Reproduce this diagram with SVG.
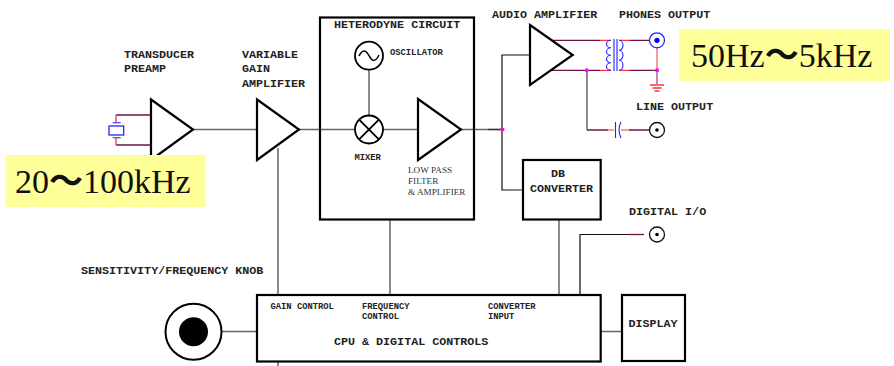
<svg xmlns="http://www.w3.org/2000/svg" width="894" height="366" viewBox="0 0 894 366">
<style>
text{font-family:"Liberation Mono",monospace;font-weight:bold;fill:#222}
.l{font-size:11.7px}.s{font-size:8.8px}
.big{font-family:"Liberation Serif","Noto Sans CJK JP",serif;font-weight:normal;font-size:34px;fill:#111}
.tl{font-weight:700}
.t{font-family:"Liberation Serif",serif;font-weight:normal;font-size:9.2px;fill:#333}
.b{fill:#fff;stroke:#000;stroke-width:2.2}
.w{fill:none;stroke:#666;stroke-width:1.5}
.k{fill:none;stroke:#111;stroke-width:1.2}
.m{fill:none;stroke:#6b1445;stroke-width:1.3}
.r{fill:none;stroke:#f33;stroke-width:1.3}
.p{fill:none;stroke:#f77;stroke-width:1.5}
.u{fill:none;stroke:#22f;stroke-width:1.1}
.n{fill:#f0f}
</style>
<rect width="894" height="366" fill="#fff"/>
<g id="connectors">
<path class="w" d="M193 129.500H257M299 129.500H355M383 129.500H418M461 129.500H502M369 70V115"/>
<path class="m" d="M488 129.500H502"/>
<path class="k" d="M530 55H502V190H512"/>
<path class="w" d="M512 190H523M278 148V295M390 219V295M559 219V295M278 362V366M222 331.500H257M601 331.500H622"/>
<path class="k" d="M580 295V234.500H628"/>
<path class="w" d="M580 295V240"/>
<path class="m" d="M628 234.500H644"/>
<path class="m" d="M116 115H151M116 145H151M552 40.300H600M552 70.300H600M630 40.300H650M630 70.300H657"/>
<path class="r" d="M116 115V122.700M116 137.700V145M600 40.300H611M600 70.300H611M619 40.300H630M619 70.300H630"/>
<path class="w" d="M587 70.300V130"/>
<path class="m" d="M587 130H608M629 130H650"/>
<path class="p" d="M608 130H614M621 130H629M657 47V70.300"/>
<path d="M657 70.300V84" fill="none" stroke="#a86a8a" stroke-width="1.500"/>
<circle class="n" cx="502.500" cy="129.500" r="2"/>
<circle class="n" cx="586.700" cy="70.300" r="2"/>
<circle class="n" cx="657" cy="70.300" r="2"/>
</g>
<g id="crystal">
<path class="u" d="M112.700 122.700H120.700M112.700 137.700H120.700" stroke-width="1.300"/>
<rect x="109" y="126" width="14.700" height="9" fill="#fff" stroke="#22f" stroke-width="1.300"/>
</g>
<g id="preamp"><path class="b" d="M151 99.500L193 129.500L151 160Z"/></g>
<g id="vga"><path class="b" d="M257 99.500L299 129.500L257 160Z"/></g>
<g id="heterodyne">
<rect x="320" y="17.500" width="154" height="202" fill="none" stroke="#000" stroke-width="2.200"/>
<g id="oscillator"><circle cx="369" cy="55.700" r="14" fill="none" stroke="#000" stroke-width="1.800"/>
<path d="M359 56Q364 46 369 55.700T379 55" fill="none" stroke="#000" stroke-width="1.500"/></g>
<g id="mixer"><circle cx="369" cy="129.500" r="14" fill="none" stroke="#000" stroke-width="1.800"/>
<path d="M359.100 119.600L378.900 139.400M378.900 119.600L359.100 139.400" stroke="#000" stroke-width="1.800"/></g>
<g id="lowpass"><path class="b" d="M418 99L461 129.500L418 160Z"/></g>
</g>
<g id="audio-amp"><path class="b" d="M530 25L572.700 55L530 85Z"/></g>
<g id="transformer">
<path class="u" d="M614 39V71M617 39V71" stroke-width="1.200"/>
<path class="u" d="M611 40.300a4.500 3.750 0 0 0 0 7.500a4.500 3.750 0 0 0 0 7.500a4.500 3.750 0 0 0 0 7.500a4.500 3.750 0 0 0 0 7.500" stroke-width="1.300"/>
<path class="u" d="M619 40.300a4 5 0 0 1 0 10a4 5 0 0 1 0 10a4 5 0 0 1 0 10" stroke-width="1.300"/>
</g>
<g id="line-cap"><path class="u" d="M615.500 122V138" stroke-width="1.300"/><path class="u" d="M621 122Q617 130 621 138" stroke-width="1.300"/></g>
<g id="ground"><path class="r" d="M650 85H664M652.500 88H661.500M654.500 91H659.500"/></g>
<g id="phones-jack"><circle cx="657" cy="40.300" r="7.500" fill="#fff" stroke="#22f" stroke-width="1.300"/><circle cx="657" cy="40.300" r="2.600" fill="#00f"/></g>
<g id="line-jack"><circle cx="657" cy="130" r="7.500" fill="#fff" stroke="#111" stroke-width="1.300"/><circle cx="657" cy="130" r="1.800" fill="#000"/></g>
<g id="digital-jack"><circle cx="657" cy="234.500" r="7.500" fill="#fff" stroke="#111" stroke-width="1.300"/><circle cx="657" cy="234.500" r="1.800" fill="#000"/></g>
<g id="db-converter"><rect class="b" x="523" y="160" width="77.700" height="59.500"/>
<text class="l" x="551" y="177">DB</text><text class="l" x="530" y="192">CONVERTER</text></g>
<g id="cpu"><rect class="b" x="257" y="295" width="343.700" height="66.500"/>
<text class="s" x="270.500" y="309">GAIN CONTROL</text>
<text class="s" x="362" y="309">FREQUENCY</text><text class="s" x="362" y="319">CONTROL</text>
<text class="s" x="488" y="309">CONVERTER</text><text class="s" x="488" y="319">INPUT</text>
<text class="l" x="334" y="345">CPU &amp; DIGITAL CONTROLS</text></g>
<g id="display"><rect class="b" x="622" y="295" width="63" height="66"/><text class="l" x="628.500" y="327">DISPLAY</text></g>
<g id="knob"><circle cx="193.500" cy="331.700" r="28" fill="#fff" stroke="#000" stroke-width="2"/><circle cx="193.500" cy="331.700" r="14.500" fill="#000"/></g>
<g id="labels">
<text class="l" x="124" y="58">TRANSDUCER</text><text class="l" x="124" y="72">PREAMP</text>
<text class="l" x="242" y="58">VARIABLE</text><text class="l" x="242" y="72">GAIN</text><text class="l" x="242" y="87">AMPLIFIER</text>
<text class="l" x="334" y="28">HETERODYNE CIRCUIT</text>
<text class="s" x="390" y="55">OSCILLATOR</text>
<text class="s" x="354.500" y="160">MIXER</text>
<text class="t" x="408" y="173">LOW PASS</text><text class="t" x="408" y="184">FILTER</text><text class="t" x="408" y="195">&amp; AMPLIFIER</text>
<text class="l" x="492" y="18">AUDIO AMPLIFIER</text>
<text class="l" x="619" y="18">PHONES OUTPUT</text>
<text class="l" x="636" y="110">LINE OUTPUT</text>
<text class="l" x="629" y="215">DIGITAL I/O</text>
<text class="l" x="81" y="274">SENSITIVITY/FREQUENCY KNOB</text>
</g>
<g id="note-low"><rect x="5" y="155" width="200.700" height="52" fill="#ffff99"/><text class="big" x="15" y="193">20<tspan class="tl">～</tspan>100kHz</text></g>
<g id="note-high"><rect x="679" y="29" width="211" height="52" fill="#ffff99"/><text class="big" x="691" y="67">50Hz<tspan class="tl">～</tspan>5kHz</text></g>
</svg>
